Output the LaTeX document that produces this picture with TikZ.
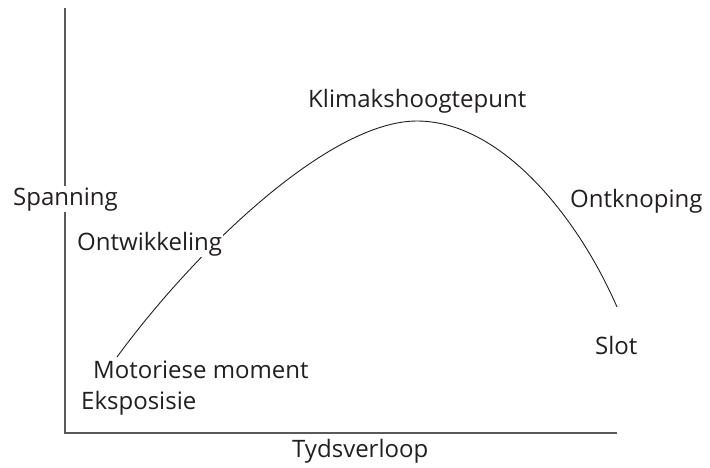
\documentclass[tikz,border=0pt]{standalone}
\usepackage{fontspec}
\setmainfont{Open Sans}
\definecolor{axisgray}{HTML}{5A5A5A}
\definecolor{inkblack}{HTML}{231F20}
\begin{document}
\begin{tikzpicture}[x=1pt,y=-1pt,
    label/.style={fill=white,inner sep=1pt,anchor=base west,text=inkblack,
      font=\fontsize{24}{28}\selectfont},
    axis/.style={draw=axisgray,line width=1.6pt},
    arc/.style={draw=inkblack,line width=0.9pt}]
        \useasboundingbox (0,0) rectangle (710,467);

        % Axes
        \coordinate (top) at (65,8);
        \coordinate (origin) at (65,433);
        \coordinate (right) at (617,433);
        \draw[axis] (top) -- (origin) -- (right);

        % Tension curve
        \coordinate (start) at (117,357);
        \coordinate (peak) at (417,121);
        \coordinate (end) at (617,307);
        \draw[arc] (start) .. controls (197,248) and (330,121) .. (peak)
                   .. controls (500,121) and (577,215) .. (end);

        % Labels
        \node[label] (spanning) at (12,205) {Spanning};
        \node[label] (ontwikkeling) at (76,250) {Ontwikkeling};
        \node[label] (klimaks) at (307,107) {Klimakshoogtepunt};
        \node[label] (ontknoping) at (569,207) {Ontknoping};
        \node[label] (slot) at (594,354) {Slot};
        \node[label] (motoriese) at (92,378) {Motoriese moment};
        \node[label] (eksposisie) at (80,409) {Eksposisie};
        \node[label] (tydsverloop) at (291,457) {Tydsverloop};
\end{tikzpicture}
\end{document}
